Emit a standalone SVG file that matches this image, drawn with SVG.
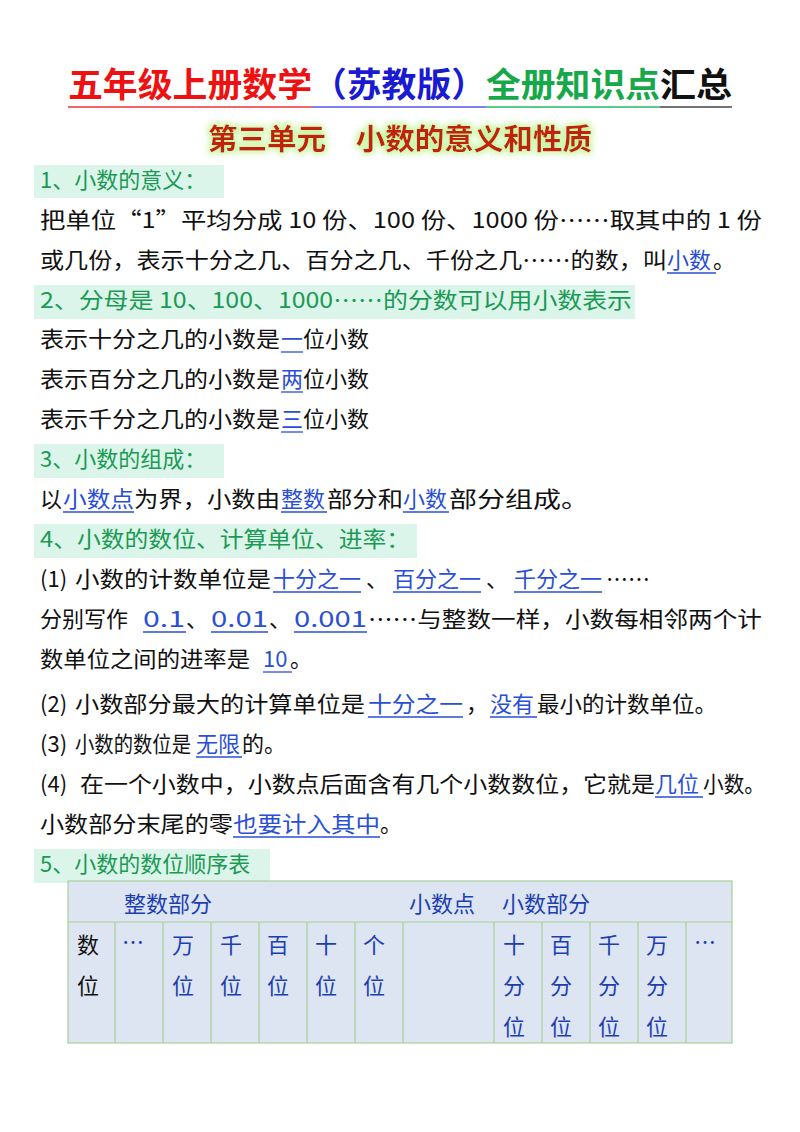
<svg xmlns="http://www.w3.org/2000/svg" width="800" height="1132" viewBox="0 0 800 1132">
<defs>
<style>
text{font-family:"Noto Sans CJK SC","Liberation Serif",serif;font-size:22px;fill:#111}
.a{fill:#2a4fd6}
.h{fill:#1a9a55}
.hb{fill:#dcf5ea}
.u{stroke:#2a4fd6;stroke-width:1.3}
.t{font-weight:bold;font-size:34px}
.c{fill:#1c3fb0}
.g{stroke:#a9cf98;stroke-width:1.2;fill:none}
</style>
<filter id="glow" x="-10%" y="-30%" width="120%" height="160%">
<feMorphology in="SourceAlpha" operator="dilate" radius="2" result="d"/>
<feGaussianBlur in="d" stdDeviation="3" result="b"/>
<feFlood flood-color="#c8f5a0"/>
<feComposite in2="b" operator="in" result="gl"/>
<feMerge><feMergeNode in="gl"/><feMergeNode in="SourceGraphic"/></feMerge>
</filter>
</defs>
<rect width="800" height="1132" fill="#fff"/>
<g id="title">
<text x="68" y="97" class="t" style="fill:#ee1111" textLength="244" lengthAdjust="spacingAndGlyphs">五年级上册数学</text>
<text x="312" y="97" class="t" style="fill:#1a1ad0" textLength="174" lengthAdjust="spacingAndGlyphs">（苏教版）</text>
<text x="486" y="97" class="t" style="fill:#17a84a" textLength="174" lengthAdjust="spacingAndGlyphs">全册知识点</text>
<text x="660" y="97" class="t" style="fill:#111" textLength="72" lengthAdjust="spacingAndGlyphs">汇总</text>
<line x1="68" y1="107" x2="312" y2="107" stroke="#e33" stroke-width="1.5"/>
<line x1="312" y1="107" x2="486" y2="107" stroke="#55e" stroke-width="1.5"/>
<line x1="486" y1="107" x2="660" y2="107" stroke="#2b6" stroke-width="1.5"/>
<line x1="660" y1="107" x2="732" y2="107" stroke="#444" stroke-width="1.5"/>
<text x="208" y="150" textLength="384" lengthAdjust="spacingAndGlyphs" filter="url(#glow)" style="font-size:29px;font-weight:bold;fill:#c0200a">第三单元　小数的意义和性质</text>
</g>
<g id="headings">
<rect class="hb" x="34" y="165" width="190" height="33"/>
<rect class="hb" x="34" y="285" width="601" height="34"/>
<rect class="hb" x="34" y="444" width="190" height="34"/>
<rect class="hb" x="34" y="524" width="383" height="34"/>
<rect class="hb" x="34" y="849" width="236" height="34"/>
<text class="h" x="40" y="188">1、小数的意义：</text>
<text class="h" x="40" y="308" textLength="592" lengthAdjust="spacingAndGlyphs">2、分母是 10、100、1000……的分数可以用小数表示</text>
<text class="h" x="40" y="467">3、小数的组成：</text>
<text class="h" x="40" y="547" textLength="370" lengthAdjust="spacingAndGlyphs">4、小数的数位、计算单位、进率：</text>
<text class="h" x="40" y="872">5、小数的数位顺序表</text>
</g>
<g id="body">
<text x="40" y="228" textLength="722" lengthAdjust="spacingAndGlyphs">把单位“1”平均分成 10 份、100 份、1000 份……取其中的 1 份</text>
<text x="40" y="268" textLength="627" lengthAdjust="spacingAndGlyphs">或几份，表示十分之几、百分之几、千份之几……的数，叫</text>
<text x="667" y="268" class="a">小数</text><text x="713" y="268">。</text>
<text x="40" y="347" textLength="240" lengthAdjust="spacingAndGlyphs">表示十分之几的小数是</text><text x="281" y="347" class="a">一</text><text x="303" y="347">位小数</text>
<text x="40" y="387" textLength="240" lengthAdjust="spacingAndGlyphs">表示百分之几的小数是</text><text x="281" y="387" class="a">两</text><text x="303" y="387">位小数</text>
<text x="40" y="427" textLength="240" lengthAdjust="spacingAndGlyphs">表示千分之几的小数是</text><text x="281" y="427" class="a">三</text><text x="303" y="427">位小数</text>
<text x="40" y="507">以</text><text x="63" y="507" class="a" textLength="71" lengthAdjust="spacingAndGlyphs">小数点</text>
<text x="134" y="507" textLength="146" lengthAdjust="spacingAndGlyphs">为界，小数由</text>
<text x="281" y="507" class="a">整数</text><text x="327" y="507" textLength="76" lengthAdjust="spacingAndGlyphs">部分和</text>
<text x="403" y="507" class="a">小数</text><text x="449" y="507" textLength="140" lengthAdjust="spacingAndGlyphs">部分组成。</text>
<text x="40" y="587">(1)</text><text x="75" y="587" textLength="196" lengthAdjust="spacingAndGlyphs">小数的计数单位是</text>
<text x="273" y="587" class="a" textLength="88" lengthAdjust="spacingAndGlyphs">十分之一</text><text x="366" y="587">、</text>
<text x="393" y="587" class="a" textLength="88" lengthAdjust="spacingAndGlyphs">百分之一</text><text x="486" y="587">、</text>
<text x="514" y="587" class="a" textLength="88" lengthAdjust="spacingAndGlyphs">千分之一</text><text x="606" y="587">……</text>
<text x="40" y="627">分别写作</text>
<text x="143" y="627" class="a" textLength="42" lengthAdjust="spacingAndGlyphs">0.1</text><text x="186" y="627">、</text>
<text x="211" y="627" class="a" textLength="57" lengthAdjust="spacingAndGlyphs">0.01</text><text x="269" y="627">、</text>
<text x="294" y="627" class="a" textLength="73" lengthAdjust="spacingAndGlyphs">0.001</text>
<text x="368" y="627" textLength="394" lengthAdjust="spacingAndGlyphs">……与整数一样，小数每相邻两个计</text>
<text x="40" y="667" textLength="210" lengthAdjust="spacingAndGlyphs">数单位之间的进率是</text><text x="263" y="667" class="a">10</text><text x="290" y="667">。</text>
<text x="40" y="712">(2)</text><text x="75" y="712" textLength="290" lengthAdjust="spacingAndGlyphs">小数部分最大的计算单位是</text>
<text x="368" y="712" class="a" textLength="95" lengthAdjust="spacingAndGlyphs">十分之一</text><text x="466" y="712">，</text>
<text x="490" y="712" class="a">没有</text><text x="537" y="712" textLength="180" lengthAdjust="spacingAndGlyphs">最小的计数单位。</text>
<text x="40" y="752">(3)</text><text x="75" y="752" textLength="116" lengthAdjust="spacingAndGlyphs">小数的数位是</text><text x="196" y="752" class="a">无限</text><text x="242" y="752">的。</text>
<text x="40" y="792">(4)</text><text x="80" y="792" textLength="575" lengthAdjust="spacingAndGlyphs">在一个小数中，小数点后面含有几个小数数位，它就是</text>
<text x="655" y="792" class="a">几位</text><text x="703" y="792" textLength="62" lengthAdjust="spacingAndGlyphs">小数。</text>
<text x="40" y="832" textLength="193" lengthAdjust="spacingAndGlyphs">小数部分末尾的零</text><text x="233" y="832" class="a" textLength="147" lengthAdjust="spacingAndGlyphs">也要计入其中</text><text x="380" y="832">。</text>
</g>
<g id="underlines">
<line class="u" x1="667" y1="273" x2="716" y2="273"/>
<line class="u" x1="281" y1="352" x2="303" y2="352"/>
<line class="u" x1="281" y1="392" x2="303" y2="392"/>
<line class="u" x1="281" y1="432" x2="303" y2="432"/>
<line class="u" x1="63" y1="512" x2="134" y2="512"/>
<line class="u" x1="281" y1="512" x2="327" y2="512"/>
<line class="u" x1="403" y1="512" x2="449" y2="512"/>
<line class="u" x1="273" y1="592" x2="361" y2="592"/>
<line class="u" x1="393" y1="592" x2="481" y2="592"/>
<line class="u" x1="514" y1="592" x2="602" y2="592"/>
<line class="u" x1="143" y1="632" x2="186" y2="632"/>
<line class="u" x1="211" y1="632" x2="268" y2="632"/>
<line class="u" x1="294" y1="632" x2="367" y2="632"/>
<line class="u" x1="263" y1="672" x2="292" y2="672"/>
<line class="u" x1="368" y1="717" x2="463" y2="717"/>
<line class="u" x1="490" y1="717" x2="537" y2="717"/>
<line class="u" x1="196" y1="757" x2="242" y2="757"/>
<line class="u" x1="655" y1="797" x2="703" y2="797"/>
<line class="u" x1="233" y1="837" x2="380" y2="837"/>
</g>
<g id="table">
<rect x="68" y="881" width="664" height="162" class="g" style="fill:#dde5f3"/>
<line class="g" x1="68" y1="922" x2="732" y2="922"/>
<g class="g">
<line x1="115" y1="922" x2="115" y2="1043"/><line x1="163" y1="922" x2="163" y2="1043"/>
<line x1="211" y1="922" x2="211" y2="1043"/><line x1="259" y1="922" x2="259" y2="1043"/>
<line x1="307" y1="922" x2="307" y2="1043"/><line x1="355" y1="922" x2="355" y2="1043"/>
<line x1="403" y1="922" x2="403" y2="1043"/><line x1="494" y1="922" x2="494" y2="1043"/>
<line x1="542" y1="922" x2="542" y2="1043"/><line x1="590" y1="922" x2="590" y2="1043"/>
<line x1="638" y1="922" x2="638" y2="1043"/><line x1="686" y1="922" x2="686" y2="1043"/>
</g>
<text class="c" x="124" y="912">整数部分</text>
<text class="c" x="409" y="912">小数点</text>
<text class="c" x="502" y="912">小数部分</text>
<text x="77" y="953">数</text><text x="77" y="994">位</text>
<text class="c" x="122" y="950">…</text><text class="c" x="694" y="950">…</text>
<text class="c" x="172" y="953">万</text><text class="c" x="172" y="994">位</text>
<text class="c" x="220" y="953">千</text><text class="c" x="220" y="994">位</text>
<text class="c" x="267" y="953">百</text><text class="c" x="267" y="994">位</text>
<text class="c" x="315" y="953">十</text><text class="c" x="315" y="994">位</text>
<text class="c" x="363" y="953">个</text><text class="c" x="363" y="994">位</text>
<text class="c" x="503" y="953">十</text><text class="c" x="503" y="994">分</text><text class="c" x="503" y="1035">位</text>
<text class="c" x="550" y="953">百</text><text class="c" x="550" y="994">分</text><text class="c" x="550" y="1035">位</text>
<text class="c" x="598" y="953">千</text><text class="c" x="598" y="994">分</text><text class="c" x="598" y="1035">位</text>
<text class="c" x="646" y="953">万</text><text class="c" x="646" y="994">分</text><text class="c" x="646" y="1035">位</text>
</g>
</svg>
